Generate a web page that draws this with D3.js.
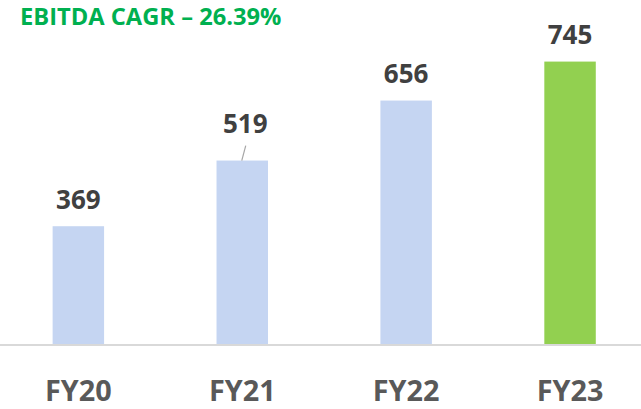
<!DOCTYPE html>
<html><head><meta charset="utf-8">
<script src="https://cdn.jsdelivr.net/npm/d3@7"></script>
<style>
html,body{margin:0;padding:0;background:#fff;}
svg{display:block;font-family:"Open Sans","Noto Sans",sans-serif;}
</style></head>
<body>
<script>
const title = "EBITDA CAGR – 26.39%";
const categories = ["FY20","FY21","FY22","FY23"];
const values = [369, 519, 656, 745];
const barColors = ["#C5D5F2","#C5D5F2","#C5D5F2","#92D050"];
const labelLift = [0, 10, 0, 0]; // extra lift for labels placed with a leader line

const W = 641, H = 409, baseY = 344;
const svg = d3.select("body").append("svg").attr("width", W).attr("height", H);

const x = d3.scaleBand().domain(categories).range([-3.6, 652]).paddingInner(0.686).paddingOuter(0.343);
const y = d3.scaleLinear().domain([100, 800]).range([baseY, 37.5]);

svg.append("text").attr("x", 20).attr("y", 25)
  .attr("fill", "#00B050").attr("font-weight", 700).attr("font-size", 23.7)
  .text(title);

svg.selectAll("rect.bar").data(values).join("rect").attr("class","bar")
  .attr("x", (d,i) => x(categories[i]))
  .attr("width", x.bandwidth())
  .attr("y", d => y(d))
  .attr("height", d => baseY - y(d))
  .attr("fill", (d,i) => barColors[i]);

// axis line
svg.append("line").attr("x1", 0).attr("x2", W).attr("y1", baseY + 1).attr("y2", baseY + 1)
  .attr("stroke", "#D9D9D9").attr("stroke-width", 2);

// leader lines
svg.selectAll("line.leader").data(values.map((v,i)=>({v,i})).filter(d => labelLift[d.i] > 0))
  .join("line").attr("class","leader")
  .attr("x1", d => x(categories[d.i]) + x.bandwidth()/2 + 3.5)
  .attr("y1", d => y(d.v) - 15)
  .attr("x2", d => x(categories[d.i]) + x.bandwidth()/2 - 0.5)
  .attr("y2", d => y(d.v))
  .attr("stroke", "#A6A6A6").attr("stroke-width", 1.2);

svg.selectAll("text.val").data(values).join("text").attr("class","val")
  .attr("x", (d,i) => x(categories[i]) + x.bandwidth()/2 + (labelLift[i] ? 3 : 0))
  .attr("y", (d,i) => y(d) - 17.5 - labelLift[i])
  .attr("text-anchor", "middle").attr("fill", "#404040")
  .attr("font-weight", 700).attr("font-size", 26)
  .text(d => d);

svg.selectAll("text.cat").data(categories).join("text").attr("class","cat")
  .attr("x", d => x(d) + x.bandwidth()/2)
  .attr("y", 401.2)
  .attr("text-anchor", "middle").attr("fill", "#595959")
  .attr("font-weight", 700).attr("font-size", 28.8)
  .text(d => d);
</script>
</body></html>
